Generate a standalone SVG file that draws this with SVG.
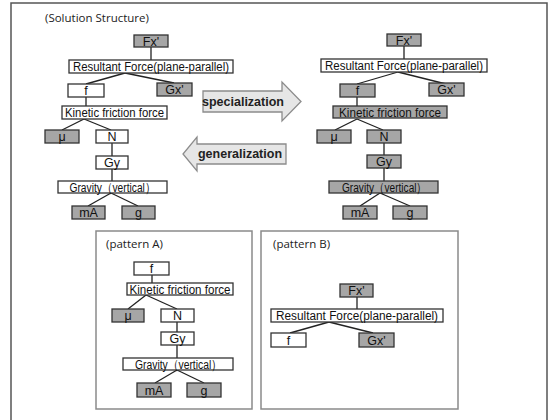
<svg xmlns="http://www.w3.org/2000/svg" width="549" height="420" viewBox="0 0 549 420">
<style>
.b{stroke:#333;stroke-width:1.3;}
.w{fill:#fff;}
.g{fill:#a6a6a6;}
.t{font-family:"Liberation Sans",Arial,sans-serif;font-size:12.5px;fill:#111;text-anchor:middle;}
.c line{stroke:#222;stroke-width:1.3;}
.cap{font-family:"Open Sans","Liberation Sans",sans-serif;font-size:11.5px;fill:#222;}
.arr{fill:#e6e6e6;stroke:#8c8c8c;stroke-width:1.3;}
.at{font-family:"Liberation Sans",Arial,sans-serif;font-size:12.5px;font-weight:bold;fill:#222;text-anchor:middle;}
.frame{fill:none;stroke:#555;stroke-width:1.5;}
.pat{fill:none;stroke:#8a8a8a;stroke-width:1.5;}
</style>
<rect width="549" height="420" fill="#fff"/>
<rect class="frame" x="11" y="3" width="536" height="425"/>
<text class="cap" x="45" y="22">(Solution Structure)</text>

<g id="connectors" class="c">
<!-- left tree -->
<line x1="151" y1="47" x2="151" y2="60"/>
<line x1="125" y1="73" x2="86" y2="84"/>
<line x1="125" y1="73" x2="174" y2="83"/>
<line x1="86" y1="97" x2="86" y2="106"/>
<line x1="84" y1="119" x2="62" y2="130"/>
<line x1="84" y1="119" x2="111" y2="130"/>
<line x1="112" y1="143" x2="112" y2="156"/>
<line x1="112" y1="169" x2="112" y2="181"/>
<line x1="111" y1="193" x2="88" y2="206"/>
<line x1="111" y1="193" x2="138" y2="206"/>
<!-- right tree -->
<line x1="404" y1="46" x2="404" y2="59"/>
<line x1="398" y1="72" x2="357" y2="84"/>
<line x1="398" y1="72" x2="446" y2="84"/>
<line x1="357" y1="97" x2="357" y2="106"/>
<line x1="357" y1="119" x2="335" y2="130"/>
<line x1="357" y1="119" x2="383" y2="130"/>
<line x1="384" y1="143" x2="384" y2="155"/>
<line x1="384" y1="168" x2="384" y2="181"/>
<line x1="380" y1="193" x2="360" y2="206"/>
<line x1="380" y1="193" x2="410" y2="206"/>
<!-- pattern A -->
<line x1="152" y1="275" x2="152" y2="283"/>
<line x1="146" y1="295" x2="128" y2="309"/>
<line x1="146" y1="295" x2="177" y2="309"/>
<line x1="177" y1="322" x2="177" y2="332"/>
<line x1="177" y1="345" x2="177" y2="358"/>
<line x1="177" y1="370" x2="155" y2="383"/>
<line x1="177" y1="370" x2="204" y2="383"/>
<!-- pattern B -->
<line x1="357" y1="297" x2="357" y2="309"/>
<line x1="329" y1="322" x2="290" y2="333"/>
<line x1="329" y1="322" x2="373" y2="333"/>
</g>

<!-- left tree nodes -->
<g id="L-Fx"><rect class="b g" x="134" y="35" width="34" height="12"/><text class="t" x="151" y="45.5">Fx'</text></g>
<g id="L-Resultant"><rect class="b w" x="69" y="60" width="164" height="13"/><text class="t" x="151" y="71" textLength="156" lengthAdjust="spacingAndGlyphs">Resultant Force(plane-parallel)</text></g>
<g id="L-f"><rect class="b w" x="68" y="84" width="36" height="13"/><text class="t" x="86" y="95">f</text></g>
<g id="L-Gx"><rect class="b g" x="157" y="83" width="35" height="13"/><text class="t" x="174.5" y="94">Gx'</text></g>
<g id="L-Kinetic"><rect class="b w" x="62" y="106" width="105" height="13"/><text class="t" x="114.5" y="117" textLength="99" lengthAdjust="spacingAndGlyphs">Kinetic friction force</text></g>
<g id="L-mu"><rect class="b g" x="45" y="130" width="34" height="13"/><text class="t" x="62" y="141">μ</text></g>
<g id="L-N"><rect class="b w" x="96" y="130" width="32" height="13"/><text class="t" x="112" y="141">N</text></g>
<g id="L-Gy"><rect class="b w" x="96" y="156" width="32" height="13"/><text class="t" x="112" y="167">Gy</text></g>
<g id="L-Gravity"><rect class="b w" x="58" y="181" width="109" height="12"/><text class="t" x="112.5" y="191.5" textLength="86" lengthAdjust="spacingAndGlyphs">Gravity（vertical）</text></g>
<g id="L-mA"><rect class="b g" x="72" y="206" width="33" height="13"/><text class="t" x="88.5" y="217">mA</text></g>
<g id="L-g"><rect class="b g" x="122" y="206" width="33" height="13"/><text class="t" x="138.5" y="217">g</text></g>

<!-- right tree nodes -->
<g id="R-Fx"><rect class="b g" x="387" y="34" width="34" height="12"/><text class="t" x="404" y="44.5">Fx'</text></g>
<g id="R-Resultant"><rect class="b w" x="321" y="59" width="166" height="13"/><text class="t" x="404" y="70" textLength="158" lengthAdjust="spacingAndGlyphs">Resultant Force(plane-parallel)</text></g>
<g id="R-f"><rect class="b g" x="340" y="84" width="35" height="13"/><text class="t" x="357.5" y="95">f</text></g>
<g id="R-Gx"><rect class="b g" x="429" y="83" width="35" height="13"/><text class="t" x="446.5" y="94">Gx'</text></g>
<g id="R-Kinetic"><rect class="b g" x="333" y="106" width="114" height="12"/><text class="t" x="390" y="116.5" textLength="102" lengthAdjust="spacingAndGlyphs">Kinetic friction force</text></g>
<g id="R-mu"><rect class="b g" x="317" y="130" width="34" height="13"/><text class="t" x="334" y="141">μ</text></g>
<g id="R-N"><rect class="b g" x="367" y="130" width="34" height="13"/><text class="t" x="384" y="141">N</text></g>
<g id="R-Gy"><rect class="b g" x="367" y="155" width="34" height="13"/><text class="t" x="384" y="166">Gy</text></g>
<g id="R-Gravity"><rect class="b g" x="329" y="181" width="109" height="12"/><text class="t" x="384.5" y="191.5" textLength="85" lengthAdjust="spacingAndGlyphs">Gravity（vertical）</text></g>
<g id="R-mA"><rect class="b g" x="343" y="206" width="34" height="13"/><text class="t" x="360" y="217">mA</text></g>
<g id="R-g"><rect class="b g" x="393" y="206" width="34" height="13"/><text class="t" x="410" y="217">g</text></g>

<!-- arrows -->
<g id="specialization"><path class="arr" d="M203,91 H282 V82 L301,101.5 L282,121 V112 H203 Z"/><text class="at" x="243" y="106">specialization</text></g>
<g id="generalization"><path class="arr" d="M286,144 H197 V137 L183,154 L197,171 V164 H286 Z"/><text class="at" x="240" y="158">generalization</text></g>

<!-- pattern A -->
<g id="patternA">
<rect class="pat" x="96" y="231" width="156" height="178"/>
<text class="cap" x="106" y="248">(pattern A)</text>
</g>
<g id="A-f"><rect class="b w" x="134" y="262" width="35" height="13"/><text class="t" x="151.5" y="273">f</text></g>
<g id="A-Kinetic"><rect class="b w" x="127" y="283" width="106" height="12"/><text class="t" x="180" y="293.5" textLength="101" lengthAdjust="spacingAndGlyphs">Kinetic friction force</text></g>
<g id="A-mu"><rect class="b g" x="112" y="309" width="32" height="13"/><text class="t" x="128" y="320">μ</text></g>
<g id="A-N"><rect class="b w" x="161" y="309" width="33" height="13"/><text class="t" x="177.5" y="320">N</text></g>
<g id="A-Gy"><rect class="b w" x="161" y="332" width="33" height="13"/><text class="t" x="177.5" y="343">Gy</text></g>
<g id="A-Gravity"><rect class="b w" x="123" y="358" width="110" height="12"/><text class="t" x="178.5" y="368.5" textLength="87" lengthAdjust="spacingAndGlyphs">Gravity（vertical）</text></g>
<g id="A-mA"><rect class="b g" x="137" y="383" width="34" height="14"/><text class="t" x="154" y="394.5">mA</text></g>
<g id="A-g"><rect class="b g" x="187" y="383" width="34" height="14"/><text class="t" x="204" y="394.5">g</text></g>

<!-- pattern B -->
<g id="patternB">
<rect class="pat" x="261" y="231" width="197" height="178"/>
<text class="cap" x="273" y="248">(pattern B)</text>
</g>
<g id="B-Fx"><rect class="b g" x="340" y="284" width="33" height="13"/><text class="t" x="356.5" y="295">Fx'</text></g>
<g id="B-Resultant"><rect class="b w" x="271" y="309" width="172" height="13"/><text class="t" x="357" y="320" textLength="162" lengthAdjust="spacingAndGlyphs">Resultant Force(plane-parallel)</text></g>
<g id="B-f"><rect class="b w" x="271" y="333" width="35" height="14"/><text class="t" x="288.5" y="344.5">f</text></g>
<g id="B-Gx"><rect class="b g" x="359" y="333" width="35" height="14"/><text class="t" x="376.5" y="344.5">Gx'</text></g>
</svg>
